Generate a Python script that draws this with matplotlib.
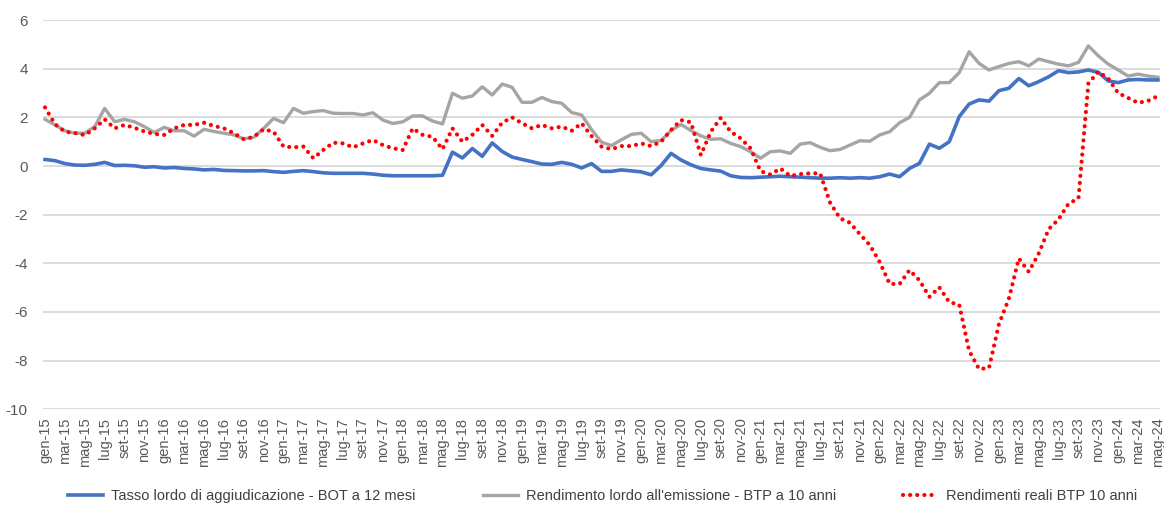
import numpy as np
import matplotlib.pyplot as plt

plt.rcParams['font.family'] = ['Liberation Sans', 'DejaVu Sans']
plt.rcParams['axes.unicode_minus'] = False

mesi = ['gen', 'feb', 'mar', 'apr', 'mag', 'giu', 'lug', 'ago', 'set', 'ott', 'nov', 'dic']
anni = range(15, 25)
periodi = [m + '-' + str(a) for a in anni for m in mesi][:113]   # gen-15 .. mag-24

# Tasso lordo di aggiudicazione - BOT a 12 mesi
bot12 = [0.27, 0.22, 0.10, 0.04, 0.03, 0.07, 0.15, 0.02, 0.03, 0.01, -0.05, -0.03,
         -0.08, -0.06, -0.10, -0.12, -0.16, -0.14, -0.18, -0.19, -0.20, -0.20, -0.19, -0.23,
         -0.26, -0.22, -0.19, -0.23, -0.28, -0.30, -0.30, -0.30, -0.30, -0.33, -0.38, -0.40,
         -0.40, -0.40, -0.40, -0.40, -0.38, 0.57, 0.33, 0.72, 0.40, 0.95, 0.60, 0.37,
         0.27, 0.18, 0.08, 0.07, 0.15, 0.07, -0.08, 0.10, -0.22, -0.22, -0.16, -0.20,
         -0.24, -0.36, 0.02, 0.52, 0.25, 0.05, -0.10, -0.16, -0.21, -0.40, -0.47, -0.48,
         -0.46, -0.44, -0.42, -0.44, -0.46, -0.48, -0.50, -0.50, -0.48, -0.50, -0.48, -0.50,
         -0.44, -0.33, -0.44, -0.10, 0.11, 0.90, 0.73, 1.00, 2.03, 2.55, 2.72, 2.67,
         3.10, 3.20, 3.60, 3.30, 3.47, 3.67, 3.92, 3.84, 3.87, 3.95, 3.85, 3.50,
         3.43, 3.54, 3.56, 3.54, 3.54]

# Rendimento lordo all'emissione - BTP a 10 anni
btp10 = [1.92, 1.69, 1.45, 1.35, 1.35, 1.62, 2.37, 1.82, 1.92, 1.82, 1.62, 1.38,
         1.59, 1.45, 1.45, 1.23, 1.51, 1.42, 1.35, 1.28, 1.12, 1.18, 1.55, 1.96,
         1.78, 2.37, 2.17, 2.24, 2.28, 2.17, 2.16, 2.16, 2.10, 2.19, 1.89, 1.75,
         1.82, 2.06, 2.06, 1.85, 1.73, 2.99, 2.79, 2.88, 3.26, 2.92, 3.37, 3.24,
         2.62, 2.62, 2.82, 2.65, 2.58, 2.20, 2.10, 1.50, 0.98, 0.84, 1.08, 1.30,
         1.35, 1.00, 1.05, 1.46, 1.71, 1.46, 1.24, 1.10, 1.12, 0.93, 0.80, 0.59,
         0.32, 0.59, 0.62, 0.52, 0.90, 0.96, 0.77, 0.63, 0.68, 0.86, 1.04, 1.02,
         1.28, 1.41, 1.78, 2.00, 2.72, 2.99, 3.43, 3.43, 3.84, 4.70, 4.22, 3.95,
         4.09, 4.22, 4.29, 4.12, 4.40, 4.29, 4.19, 4.12, 4.26, 4.94, 4.53, 4.19,
         3.95, 3.70, 3.78, 3.70, 3.65]

# Rendimenti reali BTP 10 anni
reali = [2.41, 1.72, 1.41, 1.36, 1.27, 1.55, 1.92, 1.55, 1.69, 1.57, 1.42, 1.32,
         1.28, 1.55, 1.69, 1.69, 1.78, 1.65, 1.55, 1.35, 1.10, 1.20, 1.51, 1.41,
         0.80, 0.77, 0.80, 0.32, 0.66, 0.96, 0.93, 0.77, 0.93, 1.07, 0.86, 0.73,
         0.66, 1.55, 1.28, 1.20, 0.69, 1.55, 1.00, 1.28, 1.69, 1.24, 1.78, 2.00,
         1.76, 1.55, 1.69, 1.55, 1.62, 1.45, 1.76, 1.23, 0.80, 0.69, 0.82, 0.82,
         0.93, 0.82, 1.00, 1.48, 1.89, 1.80, 0.45, 1.41, 1.98, 1.41, 1.14, 0.73,
         -0.21, -0.35, -0.10, -0.41, -0.33, -0.30, -0.30, -1.50, -2.15, -2.33, -2.80, -3.25,
         -3.95, -4.85, -4.85, -4.28, -4.70, -5.38, -4.99, -5.60, -5.70, -7.60, -8.35, -8.30,
         -6.50, -5.45, -3.80, -4.35, -3.60, -2.60, -2.19, -1.55, -1.33, 3.40, 3.88, 3.60,
         3.00, 2.80, 2.60, 2.68, 2.88]

x = np.arange(len(periodi))

fig = plt.figure(figsize=(11.64, 5.16), dpi=100)
ax = fig.add_axes([0.037, 0.207, 0.9595, 0.754])

ax.plot(x, bot12, color='#4472C4', lw=2.6, solid_joinstyle='round',
        label='Tasso lordo di aggiudicazione - BOT a 12 mesi', zorder=3)
ax.plot(x, btp10, color='#A5A5A5', lw=2.4, solid_joinstyle='round',
        label="Rendimento lordo all'emissione - BTP a 10 anni", zorder=2)
ax.plot(x, reali, color='#FF0000', lw=3.0, linestyle=(0, (0.01, 1.7)),
        dash_capstyle='round', label='Rendimenti reali BTP 10 anni', zorder=4)

ax.set_ylim(-10, 6)
ax.set_yticks(range(-10, 7, 2))
ax.set_xlim(-0.2, 112.2)
ax.set_xticks(x[::2])
ax.set_xticklabels(periodi[::2], rotation=90, fontsize=10.5, color='#595959')
ax.tick_params(axis='y', labelsize=11, colors='#595959', length=0, pad=11)
ax.tick_params(axis='x', length=0, pad=6)
ax.grid(axis='y', color='#D9D9D9', lw=1.3)
ax.set_axisbelow(True)
for s in ax.spines.values():
    s.set_visible(False)

fig.legend(loc='lower center', bbox_to_anchor=(0.518, 0.0), ncol=3, frameon=False,
           fontsize=10.5, handlelength=2.4, handletextpad=0.55, columnspacing=4.6,
           labelcolor='#404040')

fig.savefig('out.png', dpi=100, facecolor='white')
